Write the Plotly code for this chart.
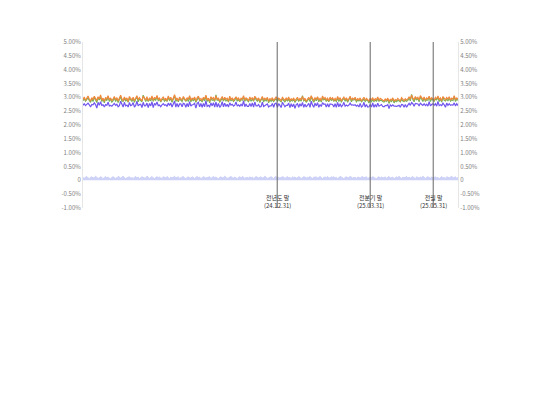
import pandas as pd
import plotly.graph_objects as go

# Series values in hundredths of a percent (e.g. 295 -> 2.95%)
orange_bp = [
292,301,289,298,305,293,287,299,291,304,296,288,302,294,309,290,297,286,300,293,
306,291,298,288,295,303,290,299,287,296,308,294,289,301,292,298,285,303,295,290,
300,288,297,306,291,299,293,287,304,296,290,302,288,297,293,305,289,300,294,307,
292,299,286,296,302,290,297,288,305,293,300,289,296,310,291,298,287,301,294,290,
303,295,288,299,292,306,289,297,293,301,287,298,304,291,296,288,300,293,308,290,
297,286,302,294,299,289,305,292,298,287,295,303,290,300,293,297,286,304,291,298,
289,296,302,291,299,288,297,293,306,290,298,294,287,301,292,299,289,304,295,291,
298,287,294,303,290,297,292,300,286,295,291,299,288,296,302,290,297,293,288,300,
293,289,297,291,301,288,295,290,298,287,294,300,289,296,292,303,290,297,286,294,
300,291,306,295,289,298,293,302,290,296,288,305,294,299,291,297,287,301,293,298,
290,296,288,303,292,299,287,295,301,291,298,289,294,304,290,297,293,300,288,295,
291,298,287,294,300,289,296,292,286,297,290,299,288,295,291,301,289,296,293,290,
287,294,289,297,285,293,290,298,286,292,289,296,291,287,299,292,288,295,290,294,
302,293,308,297,291,303,295,300,290,306,296,292,301,289,298,294,304,291,299,295,
290,300,294,305,292,298,288,303,295,291,299,294,302,290,297,293,306,291,298,294]

green_bp = [
288,295,286,293,298,289,282,296,285,300,291,281,299,290,303,285,294,280,296,288,
302,285,295,283,288,299,285,296,281,292,303,287,286,297,286,293,282,297,291,285,
296,282,294,301,284,295,288,284,308,292,285,295,285,293,287,300,286,294,290,302,
288,293,283,291,295,286,292,285,299,289,295,282,293,306,285,293,284,295,290,285,
299,289,285,294,285,302,284,294,287,297,282,291,301,287,290,283,297,287,304,285,
293,280,299,289,292,285,309,289,292,283,290,296,287,296,287,292,283,298,287,293,
285,290,299,286,292,284,292,290,300,286,293,287,284,297,286,294,286,298,291,286,
294,281,291,298,283,293,287,297,280,291,286,292,285,292,296,285,294,287,284,295,
289,283,294,286,294,284,290,287,292,283,289,293,286,292,286,306,287,291,282,289,
296,285,303,290,282,294,288,299,284,292,283,298,291,295,285,292,284,295,289,293,
286,290,285,298,285,295,282,292,295,287,293,282,291,300,284,292,290,294,284,290,
287,292,284,289,293,285,291,289,280,293,285,292,285,291,285,296,286,290,289,285,
283,288,286,292,278,289,285,295,280,288,284,289,288,283,293,287,285,289,286,289,
298,287,311,292,284,299,290,297,284,302,291,285,298,285,292,289,301,285,295,290,
286,294,291,300,285,294,283,300,289,287,294,287,299,286,291,288,303,285,294,289]

purple_bp = [
271,277,270,275,279,273,265,274,273,280,274,261,282,271,284,271,273,265,274,271,
282,269,271,268,272,278,271,275,266,270,286,273,265,282,269,272,265,281,270,272,
281,265,271,286,269,274,275,263,282,269,270,279,263,278,269,284,263,278,273,283,
270,272,266,273,277,271,273,267,279,271,279,265,277,287,265,278,265,276,276,266,
278,276,264,278,266,284,268,273,274,278,261,278,282,266,278,264,278,266,288,267,
271,266,280,269,281,265,283,265,278,264,270,284,266,279,267,275,265,280,272,275,
268,272,283,268,273,268,275,268,288,266,276,267,267,278,267,280,265,283,269,269,
274,265,267,283,267,272,273,276,265,269,269,278,264,277,279,264,277,271,263,282,
274,266,271,271,279,263,277,266,276,260,274,277,264,277,268,282,264,275,265,270,
278,264,286,272,264,279,269,281,264,274,267,281,275,276,265,277,265,276,275,274,
265,277,264,282,266,277,266,271,282,268,272,269,272,279,272,273,271,273,268,272,
265,278,265,269,282,265,274,265,266,274,265,280,264,274,265,279,268,272,274,267,
266,270,270,274,259,273,268,273,268,268,267,269,271,264,274,273,264,274,264,272,
278,271,281,277,268,278,276,276,269,280,274,271,277,270,275,268,284,269,274,277,
271,277,268,285,270,273,270,279,273,264,279,271,277,271,273,272,280,269,277,270]

spread_bp = [
10,7,12,14,9,6,11,13,8,10,15,12,7,9,13,11,6,10,14,9,
12,8,6,11,13,10,7,9,14,12,8,11,15,10,6,9,12,13,8,10,
7,11,14,9,12,6,10,13,11,8,9,15,12,7,10,14,9,6,11,13,
10,12,8,7,13,11,9,14,10,6,12,9,11,15,8,10,13,7,9,12,
14,9,6,11,12,10,8,13,9,7,11,14,10,12,6,9,13,11,8,10,
11,13,7,9,14,10,12,8,6,11,13,9,10,15,12,7,9,11,14,10,
8,12,10,6,11,13,9,14,12,7,10,11,8,13,9,12,6,10,14,11,
9,11,13,8,10,15,12,7,9,11,13,10,6,12,14,9,11,8,10,13,
12,7,10,14,9,11,6,13,10,12,8,9,14,11,7,10,13,12,8,11,
10,14,9,6,12,11,13,8,10,15,9,7,11,12,10,14,8,9,13,11,
13,9,11,7,10,14,12,8,6,11,13,10,9,15,12,8,10,11,7,12,
11,8,12,14,9,10,13,7,11,12,9,14,10,8,6,11,13,9,12,10,
9,13,7,11,14,8,10,12,6,11,13,9,15,10,7,12,9,11,14,8,
12,8,10,14,9,6,13,11,8,12,10,15,9,7,11,13,10,8,12,9,
10,13,8,11,6,12,14,9,10,7,13,11,9,12,15,8,10,13,7,11]

start_date = "2024-06-26"
end_date = "2025-06-24"

orange = [v / 100 for v in orange_bp]
green = [v / 100 for v in green_bp]
purple = [v / 100 for v in purple_bp]
spread = [v / 100 for v in spread_bp]
n = min(len(orange), len(green), len(purple), len(spread))
dates = pd.date_range(start_date, end_date, periods=n)

event_dates = ["2024-12-31", "2025-03-31", "2025-05-31"]
event_labels = ["전년도 말<br>(24.12.31)", "전분기 말<br>(25.03.31)", "전월 말<br>(25.05.31)"]

tick_vals = [-1.0, -0.5, 0, 0.5, 1.0, 1.5, 2.0, 2.5, 3.0, 3.5, 4.0, 4.5, 5.0]
tick_text = ["-1.00%", "-0.50%", "0", "0.50%", "1.00%", "1.50%", "2.00%", "2.50%",
             "3.00%", "3.50%", "4.00%", "4.50%", "5.00%"]

FONT = "Noto Sans CJK KR, Noto Sans, sans-serif"

fig = go.Figure()
fig.add_trace(go.Scatter(x=dates, y=spread[:n], mode="lines", fill="tozeroy",
                         line=dict(color="#c6cbf6", width=0.8), fillcolor="rgba(201,205,246,0.9)",
                         showlegend=False, yaxis="y2"))
fig.add_trace(go.Scatter(x=dates, y=purple[:n], mode="lines",
                         line=dict(color="#7257ee", width=1.2), showlegend=False))
fig.add_trace(go.Scatter(x=dates, y=green[:n], mode="lines",
                         line=dict(color="#76b25a", width=1.2), showlegend=False))
fig.add_trace(go.Scatter(x=dates, y=orange[:n], mode="lines",
                         line=dict(color="#f0883c", width=1.2), showlegend=False))

for d, lab in zip(event_dates, event_labels):
    fig.add_shape(type="line", x0=d, x1=d, xref="x", y0=0, y1=1, yref="paper",
                  line=dict(color="#666666", width=1))
    fig.add_annotation(x=d, y=-0.76, xref="x", yref="y", text=lab, showarrow=False,
                       font=dict(size=6, color="#333333", family=FONT),
                       bgcolor="rgba(255,255,255,0)")

yax = dict(range=[-1, 5], tickvals=tick_vals, ticktext=tick_text, showgrid=False,
           zeroline=False, showline=True, linecolor="#e6e6e6", linewidth=1,
           ticks="", tickfont=dict(size=6, color="#808080", family=FONT), fixedrange=True)

fig.update_layout(
    width=540, height=405,
    margin=dict(l=75, r=90, t=34, b=205),
    paper_bgcolor="white", plot_bgcolor="white",
    font=dict(family=FONT),
    xaxis=dict(range=[start_date, end_date], showgrid=False, zeroline=False,
               showticklabels=False, showline=False, ticks=""),
    yaxis=yax,
    yaxis2=dict(yax, overlaying="y", side="right"),
)

fig.write_html("out.html")
